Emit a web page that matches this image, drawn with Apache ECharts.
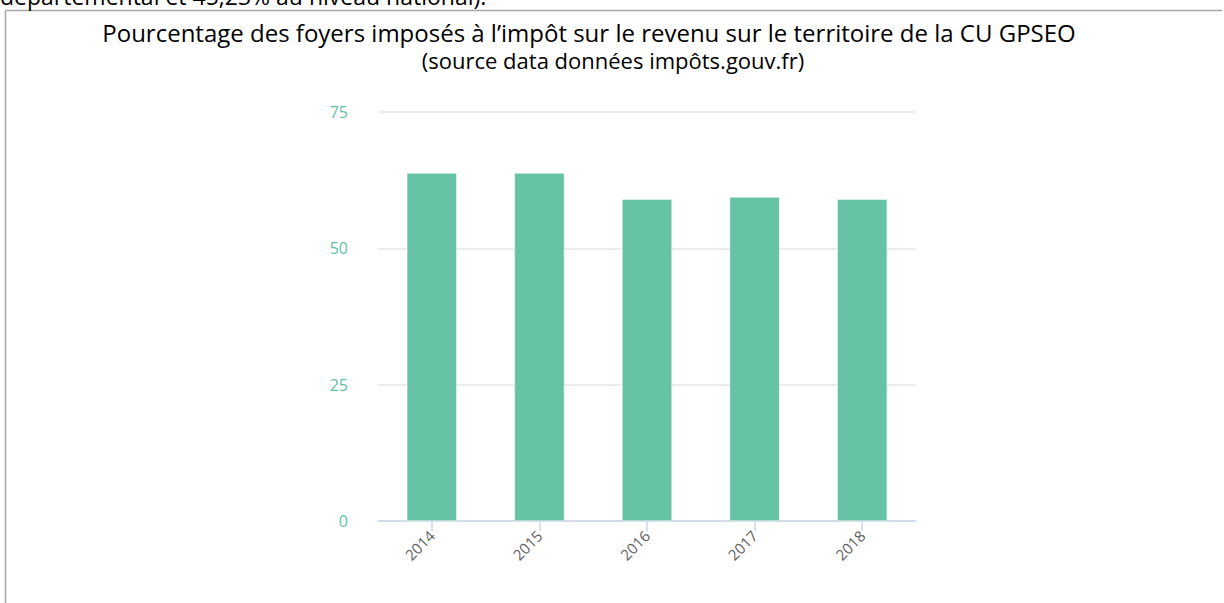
<!DOCTYPE html>
<html>
<head>
<meta charset="utf-8">
<script src="https://cdn.jsdelivr.net/npm/echarts@6/dist/echarts.min.js"></script>
<style>
html,body{margin:0;padding:0;background:#fff;}
#chart{width:1224px;height:603px;}
</style>
</head>
<body>
<div id="chart"></div>
<script>
const years = ['2014', '2015', '2016', '2017', '2018'];
const pctImposes = [63.8, 63.8, 59.0, 59.4, 59.0];
const yTicks = { min: 0, max: 75, interval: 25 };
const topCutText = 'départemental et 45,23% au niveau national).';
const titleLine1 = 'Pourcentage des foyers imposés à l\u2019impôt sur le revenu sur le territoire de la CU GPSEO';
const titleLine2 = '(source data données impôts.gouv.fr)';

const chart = echarts.init(document.getElementById('chart'), null, { renderer: 'svg' });
const titleFont = '"Open Sans", sans-serif';
chart.setOption({
  animation: false,
  graphic: [
    { type: 'line', shape: { x1: 5.5, y1: 10.5, x2: 1222, y2: 10.5 }, style: { stroke: '#a6a6a6', lineWidth: 1.5 } },
    { type: 'line', shape: { x1: 5.5, y1: 10.5, x2: 5.5, y2: 603 }, style: { stroke: '#a6a6a6', lineWidth: 1.5 } },
    { type: 'text', left: 0, top: -16, style: { text: topCutText, font: '23px ' + titleFont, fill: '#000' } },
    { type: 'text', x: 589, y: 20, style: { text: titleLine1, font: '24px ' + titleFont, fill: '#000', textAlign: 'center' } },
    { type: 'text', x: 613, y: 49, style: { text: titleLine2, font: '22px ' + titleFont, fill: '#000', textAlign: 'center' } }
  ],
  grid: { left: 378, right: 308, top: 112, bottom: 82 },
  xAxis: {
    type: 'category',
    data: years,
    axisLine: { lineStyle: { color: '#ccd6eb', width: 1.5 } },
    axisTick: { show: true, length: 10, alignWithLabel: true, lineStyle: { color: '#ccd6eb', width: 1.5 } },
    axisLabel: { rotate: 45, color: '#606060', fontSize: 15, margin: 12, fontFamily: '"Open Sans", sans-serif' }
  },
  yAxis: {
    type: 'value',
    min: yTicks.min, max: yTicks.max, interval: yTicks.interval,
    axisLine: { show: false },
    axisTick: { show: false },
    splitLine: { lineStyle: { color: '#e6e6e6', width: 1.5 } },
    axisLabel: { color: '#5fc2a3', fontSize: 16, margin: 30, fontFamily: '"Open Sans", sans-serif' }
  },
  series: [{
    type: 'bar',
    data: pctImposes,
    barWidth: 50,
    itemStyle: { color: '#66c2a5', borderColor: '#ffffff', borderWidth: 0.5 }
  }]
});
</script>
</body>
</html>
